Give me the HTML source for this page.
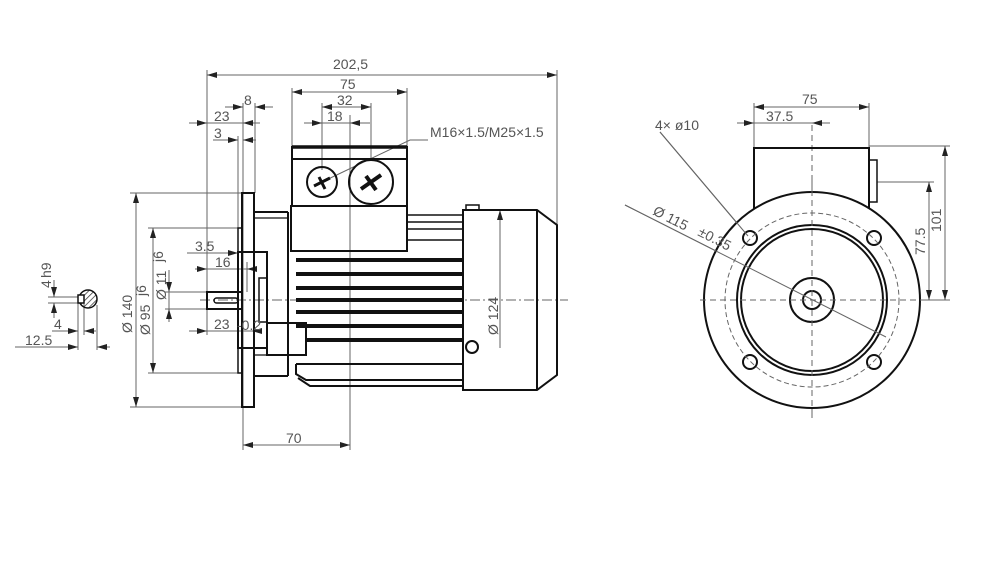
<!DOCTYPE html>
<html><head><meta charset="utf-8"><style>
html,body{margin:0;padding:0;background:#fff;width:999px;height:576px;overflow:hidden}
svg{display:block}
text{font-family:"Liberation Sans",sans-serif;fill:#555;font-size:14px}
</style></head><body>
<svg width="999" height="576" viewBox="0 0 999 576" xmlns="http://www.w3.org/2000/svg">
<defs>
<marker id="a" viewBox="0 0 10 6" refX="10" refY="3" markerWidth="10" markerHeight="6" orient="auto-start-reverse" markerUnits="userSpaceOnUse"><path d="M0,0L10,3L0,6z" fill="#222"/></marker>
<pattern id="h" width="4" height="4" patternUnits="userSpaceOnUse" patternTransform="rotate(45)"><line x1="0" y1="0" x2="0" y2="4" stroke="#333" stroke-width="1.5"/></pattern>
</defs>
<g stroke="#666" stroke-width="1" fill="none">
<!-- centerlines -->
<line x1="200" y1="300" x2="568" y2="300" stroke-dasharray="10,3,2,3"/>
<line x1="350" y1="115" x2="350" y2="450"/>
<line x1="700" y1="300" x2="930" y2="300" stroke-dasharray="6,4"/>
<line x1="812" y1="125" x2="812" y2="418" stroke-dasharray="6,4"/>
<!-- extension lines side view -->
<line x1="207" y1="70" x2="207" y2="335"/>
<line x1="557" y1="70" x2="557" y2="225"/>
<line x1="292" y1="88" x2="292" y2="147"/>
<line x1="407" y1="88" x2="407" y2="147"/>
<line x1="322" y1="103" x2="322" y2="170"/>
<line x1="371" y1="103" x2="371" y2="160"/>
<line x1="238" y1="136" x2="238" y2="252"/>
<line x1="243" y1="103" x2="243" y2="450"/>
<line x1="255" y1="103" x2="255" y2="193"/>
<line x1="130" y1="193" x2="243" y2="193"/>
<line x1="130" y1="407" x2="243" y2="407"/>
<line x1="148" y1="228" x2="238" y2="228"/>
<line x1="148" y1="373" x2="238" y2="373"/>
<line x1="165" y1="292" x2="207" y2="292"/>
<line x1="165" y1="309" x2="207" y2="309"/>
<line x1="247" y1="262" x2="247" y2="292"/>
<line x1="480" y1="210" x2="505" y2="210"/>
<!-- dimension lines -->
<line x1="207" y1="75" x2="557" y2="75" marker-start="url(#a)" marker-end="url(#a)"/>
<line x1="292" y1="92" x2="407" y2="92" marker-start="url(#a)" marker-end="url(#a)"/>
<line x1="322" y1="107" x2="371" y2="107" marker-start="url(#a)" marker-end="url(#a)"/>
<line x1="304" y1="123" x2="322" y2="123" marker-end="url(#a)"/>
<line x1="370" y1="123" x2="350" y2="123" marker-end="url(#a)"/>
<line x1="322" y1="123" x2="350" y2="123"/>
<line x1="225" y1="107" x2="243" y2="107" marker-end="url(#a)"/>
<line x1="273" y1="107" x2="255" y2="107" marker-end="url(#a)"/>
<line x1="189" y1="123" x2="207" y2="123" marker-end="url(#a)"/>
<line x1="260" y1="123" x2="243" y2="123" marker-end="url(#a)"/>
<line x1="207" y1="123" x2="243" y2="123"/>
<line x1="213" y1="140" x2="238" y2="140" marker-end="url(#a)"/>
<line x1="256" y1="140" x2="243" y2="140" marker-end="url(#a)"/>
<line x1="187" y1="253" x2="238" y2="253" marker-end="url(#a)"/>
<line x1="195" y1="269" x2="257" y2="269"/>
<line x1="195" y1="269" x2="207" y2="269" marker-end="url(#a)"/>
<line x1="257" y1="269" x2="247" y2="269" marker-end="url(#a)"/>
<line x1="189" y1="331" x2="207" y2="331" marker-end="url(#a)"/>
<line x1="262" y1="331" x2="252" y2="331" marker-end="url(#a)"/>
<line x1="207" y1="331" x2="252" y2="331"/>
<line x1="169" y1="270" x2="169" y2="292" marker-end="url(#a)"/>
<line x1="169" y1="322" x2="169" y2="309" marker-end="url(#a)"/>
<line x1="169" y1="292" x2="169" y2="309"/>
<line x1="153" y1="228" x2="153" y2="373" marker-start="url(#a)" marker-end="url(#a)"/>
<line x1="136" y1="193" x2="136" y2="407" marker-start="url(#a)" marker-end="url(#a)"/>
<line x1="243" y1="445" x2="350" y2="445" marker-start="url(#a)" marker-end="url(#a)"/>
<line x1="500" y1="210" x2="500" y2="348" marker-start="url(#a)"/>
<!-- leader -->
<polyline points="322,182 410,140 428,140"/>
<!-- shaft section -->
<line x1="48" y1="297" x2="84" y2="297"/>
<line x1="48" y1="303" x2="84" y2="303"/>
<line x1="54" y1="280" x2="54" y2="297" marker-end="url(#a)"/>
<line x1="54" y1="318" x2="54" y2="303" marker-end="url(#a)"/>
<line x1="78" y1="303" x2="78" y2="350"/>
<line x1="84" y1="303" x2="84" y2="335"/>
<line x1="97" y1="305" x2="97" y2="350"/>
<line x1="52" y1="331" x2="78" y2="331" marker-end="url(#a)"/>
<line x1="96" y1="331" x2="84" y2="331" marker-end="url(#a)"/>
<line x1="15" y1="347" x2="78" y2="347" marker-end="url(#a)"/>
<line x1="110" y1="347" x2="97" y2="347" marker-end="url(#a)"/>
<!-- right view dims -->
<line x1="754" y1="103" x2="754" y2="148"/>
<line x1="869" y1="103" x2="869" y2="148"/>
<line x1="754" y1="107" x2="869" y2="107" marker-start="url(#a)" marker-end="url(#a)"/>
<line x1="737" y1="123" x2="754" y2="123" marker-end="url(#a)"/>
<line x1="830" y1="123" x2="812" y2="123" marker-end="url(#a)"/>
<line x1="754" y1="123" x2="812" y2="123"/>
<line x1="869" y1="146" x2="950" y2="146"/>
<line x1="877" y1="182" x2="934" y2="182"/>
<line x1="900" y1="300" x2="950" y2="300"/>
<line x1="945" y1="146" x2="945" y2="300" marker-start="url(#a)" marker-end="url(#a)"/>
<line x1="929" y1="182" x2="929" y2="300" marker-start="url(#a)" marker-end="url(#a)"/>
<line x1="660" y1="132" x2="748" y2="236"/>
<line x1="625" y1="205" x2="740" y2="263" marker-end="url(#a)"/>
<line x1="740" y1="263" x2="886" y2="337" marker-end="url(#a)"/>
<circle cx="812" cy="300" r="87" stroke-dasharray="5,3"/>
</g>
<!-- outlines -->
<g stroke="#111" stroke-width="2" fill="none">
<!-- terminal box -->
<rect x="292" y="147" width="115" height="59"/>
<line x1="292" y1="147" x2="407" y2="147" stroke-width="3.5"/>
<line x1="292" y1="159" x2="407" y2="159"/>
<rect x="291" y="206" width="116" height="45"/>
<circle cx="322" cy="182" r="15"/>
<circle cx="371" cy="182" r="22"/>
<path d="M314,186 l16,-8 M319,177 l6,12" stroke-width="3"/>
<path d="M361,189 l20,-14 M366,176 l10,14" stroke-width="4"/>
<!-- flange -->
<rect x="242" y="193" width="12" height="214"/>
<rect x="238" y="228" width="4" height="145" stroke-width="1.5"/>
<line x1="254" y1="212" x2="288" y2="212"/>
<line x1="254" y1="218" x2="288" y2="218" stroke-width="1.2"/>
<line x1="254" y1="376" x2="288" y2="376"/>
<line x1="254" y1="355" x2="288" y2="355" stroke-width="1.2"/>
<line x1="288" y1="212" x2="288" y2="376"/>
<!-- shaft -->
<rect x="207" y="292" width="35" height="17"/>
<rect x="214" y="298" width="24" height="5" rx="2.5" stroke-width="1.5"/>
<rect x="238" y="252" width="29" height="96"/>
<rect x="259" y="278" width="8" height="44" stroke-width="1.5"/>
<rect x="267" y="323" width="39" height="32"/>
<!-- motor top fins -->
<line x1="407" y1="215" x2="463" y2="215" stroke-width="1.5"/>
<line x1="407" y1="222" x2="463" y2="222" stroke-width="1.5"/>
<line x1="407" y1="229" x2="463" y2="229" stroke-width="1.5"/>
<line x1="407" y1="240" x2="463" y2="240" stroke-width="1.5"/>
<!-- fins -->
<g stroke-width="4">
<line x1="296" y1="260" x2="463" y2="260"/>
<line x1="296" y1="274" x2="463" y2="274"/>
<line x1="296" y1="288" x2="463" y2="288"/>
<line x1="296" y1="300" x2="463" y2="300"/>
<line x1="296" y1="312" x2="463" y2="312"/>
<line x1="296" y1="326" x2="463" y2="326"/>
<line x1="306" y1="340" x2="463" y2="340"/>
</g>
<path d="M296,364 H463 M296,364 V374 L306,380 H463 M298,378 L310,386 H463" stroke-width="2"/>
<!-- fan cover -->
<path d="M463,210 H537 L557,225 V375 L537,390 H463 Z"/>
<line x1="537" y1="210" x2="537" y2="390"/>
<rect x="466" y="205" width="13" height="5" stroke-width="1.5"/>
<circle cx="472" cy="347" r="6"/>
<!-- shaft section -->
<circle cx="88" cy="299" r="9" fill="url(#h)" stroke-width="1.5"/>
<rect x="78" y="295" width="6" height="8" fill="#fff" stroke-width="1.5"/>
<!-- right view -->
<rect x="754" y="148" width="115" height="60"/>
<rect x="869" y="160" width="8" height="42" stroke-width="1.5"/>
<circle cx="812" cy="300" r="108" fill="#fff"/>
<circle cx="812" cy="300" r="75"/>
<circle cx="812" cy="300" r="71"/>
<circle cx="812" cy="300" r="22"/>
<circle cx="812" cy="300" r="9"/>
<circle cx="750" cy="238" r="7"/>
<circle cx="874" cy="238" r="7"/>
<circle cx="750" cy="362" r="7"/>
<circle cx="874" cy="362" r="7"/>
</g>
<g stroke="#666" stroke-width="1" fill="none">
<circle cx="812" cy="300" r="87" stroke-dasharray="5,3"/>
<line x1="812" y1="180" x2="812" y2="418" stroke-dasharray="6,4"/>
<line x1="700" y1="300" x2="925" y2="300" stroke-dasharray="6,4"/>
<line x1="748" y1="236" x2="660" y2="132"/>
<line x1="625" y1="205" x2="886" y2="337"/>
</g>
<!-- text -->
<text x="333" y="69" font-size="12">202,5</text>
<text x="340" y="89">75</text>
<text x="337" y="105">32</text>
<text x="327" y="121">18</text>
<text x="244" y="105">8</text>
<text x="214" y="121">23</text>
<text x="214" y="138">3</text>
<text x="430" y="137" font-size="13">M16×1.5/M25×1.5</text>
<text x="195" y="251">3.5</text>
<text x="215" y="267">16</text>
<text x="214" y="329">23</text><text x="237" y="330" font-size="7">-0.2</text>
<text x="286" y="443">70</text>
<text transform="translate(166,300) rotate(-90)">Ø 11</text><text transform="translate(163,262) rotate(-90)" font-size="7">j6</text>
<text transform="translate(150,335) rotate(-90)">Ø 95</text><text transform="translate(146,296) rotate(-90)" font-size="7">j6</text>
<text transform="translate(132,333) rotate(-90)">Ø 140</text>
<text transform="translate(498,335) rotate(-90)">Ø 124</text>
<text transform="translate(51,288) rotate(-90)">4</text><text transform="translate(51,278) rotate(-90)" font-size="7">h9</text>
<text x="54" y="329">4</text>
<text x="25" y="345">12.5</text>
<text x="802" y="104">75</text>
<text x="766" y="121">37.5</text>
<text x="655" y="130" font-size="13">4×  ø10</text>
<text transform="translate(941,232) rotate(-90)">101</text>
<text transform="translate(925,255) rotate(-90)">77.5</text>
<text transform="translate(652,214) rotate(27)">Ø 115</text><text transform="translate(697,235) rotate(27)" font-size="6">±0.35</text>
</svg>
</body></html>
